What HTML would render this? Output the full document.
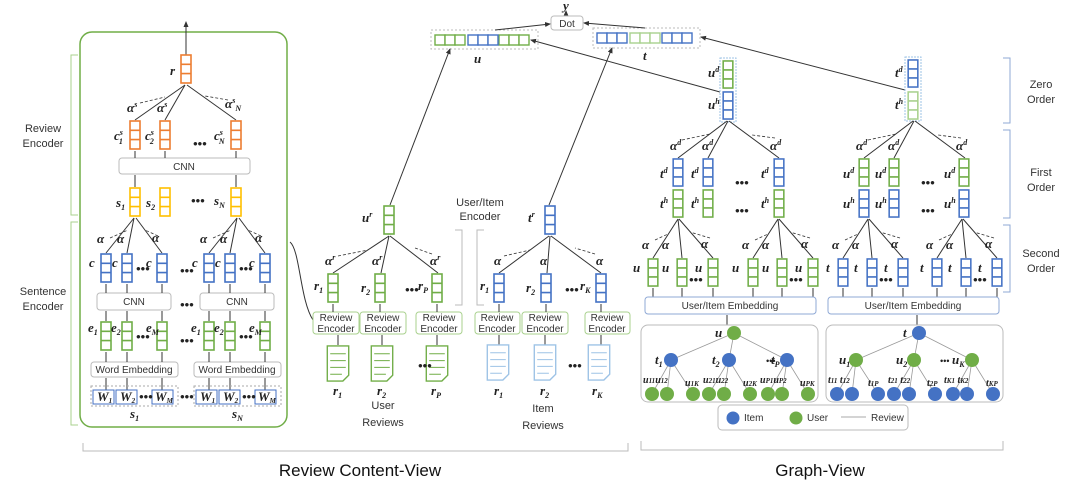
<!DOCTYPE html>
<html><head><meta charset="utf-8"><style>
html,body{margin:0;padding:0;background:#fff}
svg{display:block}
.m{font-family:"Liberation Serif",serif;font-style:italic;font-weight:bold;font-size:13px;fill:#222}
.s{font-family:"Liberation Sans",sans-serif;font-size:10px;fill:#333}
.l{font-family:"Liberation Sans",sans-serif;font-size:11px;fill:#333}
.big{font-family:"Liberation Sans",sans-serif;font-size:17px;fill:#111}
.ln{stroke:#333;stroke-width:1;fill:none}
.dl{stroke:#333;stroke-width:0.8;fill:none;stroke-dasharray:3 2}
</style></head><body>
<svg width="1080" height="491" viewBox="0 0 1080 491" xmlns="http://www.w3.org/2000/svg">
<defs>
<marker id="a" markerWidth="6" markerHeight="6" refX="5" refY="3" orient="auto"><path d="M0,0.5L6,3L0,5.5z" fill="#333"/></marker>
<symbol id="vg" viewBox="0 0 12 30"><rect x="1" y="1" width="10" height="28" fill="#fff" stroke="#70ad47" stroke-width="1.6"/><path d="M1 10.3H11M1 19.6H11" stroke="#70ad47" stroke-width="1.6"/></symbol>
<symbol id="vb" viewBox="0 0 12 30"><rect x="1" y="1" width="10" height="28" fill="#fff" stroke="#4472c4" stroke-width="1.6"/><path d="M1 10.3H11M1 19.6H11" stroke="#4472c4" stroke-width="1.6"/></symbol>
<symbol id="vo" viewBox="0 0 12 30"><rect x="1" y="1" width="10" height="28" fill="#fff" stroke="#ed7d31" stroke-width="1.6"/><path d="M1 10.3H11M1 19.6H11" stroke="#ed7d31" stroke-width="1.6"/></symbol>
<symbol id="vy" viewBox="0 0 12 30"><rect x="1" y="1" width="10" height="28" fill="#fff" stroke="#ffc000" stroke-width="1.6"/><path d="M1 10.3H11M1 19.6H11" stroke="#ffc000" stroke-width="1.6"/></symbol>
<symbol id="vl" viewBox="0 0 12 30"><rect x="1" y="1" width="10" height="28" fill="#fff" stroke="#a9d18e" stroke-width="1.6"/><path d="M1 10.3H11M1 19.6H11" stroke="#a9d18e" stroke-width="1.6"/></symbol>
<symbol id="dg" viewBox="0 0 24 38"><path d="M1 1H23V31L17 37H1Z" fill="#fff" stroke="#70ad47" stroke-width="1.4"/><path d="M4 9H20M4 16H20M4 23H20M4 30H16" stroke="#70ad47" stroke-width="1"/></symbol>
<symbol id="db" viewBox="0 0 24 38"><path d="M1 1H23V31L17 37H1Z" fill="#fff" stroke="#9dc3e6" stroke-width="1.4"/><path d="M4 9H20M4 16H20M4 23H20M4 30H16" stroke="#9dc3e6" stroke-width="1"/></symbol>
</defs>

<!-- Left panel -->
<rect x="80" y="32" width="207" height="395" rx="12" fill="none" stroke="#70ad47" stroke-width="1.5"/>
<path d="M78 55H71V215H78M78 222H71V425H78" fill="none" stroke="#a9d18e" stroke-width="1"/>
<text class="l" x="43" y="132" text-anchor="middle">Review</text><text class="l" x="43" y="147" text-anchor="middle">Encoder</text>
<text class="l" x="43" y="295" text-anchor="middle">Sentence</text><text class="l" x="43" y="310" text-anchor="middle">Encoder</text>

<line class="ln" x1="186" y1="55" x2="186" y2="22" marker-end="url(#a)"/>
<use href="#vo" x="180" y="54" width="12" height="30"/>
<text class="m" x="170" y="75">r</text>
<line class="ln" x1="135" y1="120" x2="185" y2="85"/><line class="ln" x1="165" y1="120" x2="185" y2="85"/><line class="ln" x1="236" y1="120" x2="187" y2="85"/>
<line class="dl" x1="140" y1="103" x2="165" y2="97"/><line class="dl" x1="228" y1="100" x2="205" y2="96"/>
<text class="m" x="127" y="112">α<tspan font-size="8" dy="-5">s</tspan></text><text class="m" x="157" y="112">α<tspan font-size="8" dy="-5">s</tspan></text><text class="m" x="225" y="108">α<tspan font-size="8" dy="-5">s</tspan><tspan font-size="8" dy="8">N</tspan></text>
<use href="#vo" x="129" y="120" width="12" height="30"/><use href="#vo" x="159" y="120" width="12" height="30"/><use href="#vo" x="230" y="120" width="12" height="30"/>
<text class="m" x="114" y="140">c<tspan font-size="8" dy="-5">s</tspan><tspan font-size="8" dx="-4" dy="9">1</tspan></text>
<text class="m" x="145" y="140">c<tspan font-size="8" dy="-5">s</tspan><tspan font-size="8" dx="-4" dy="9">2</tspan></text>
<text class="m" x="214" y="140">c<tspan font-size="8" dy="-5">s</tspan><tspan font-size="8" dx="-4" dy="9">N</tspan></text>
<text class="m" x="193" y="148">•••</text>
<rect x="119" y="158" width="131" height="16" rx="3" fill="#fff" stroke="#bbb"/><text class="s" x="184" y="170" text-anchor="middle">CNN</text>
<path class="ln" d="M135 158V151M165 158V151M236 158V151M135 187V175M236 187V175"/>
<use href="#vy" x="129" y="187" width="12" height="30"/><use href="#vy" x="159" y="187" width="12" height="30"/><use href="#vy" x="230" y="187" width="12" height="30"/>
<text class="m" x="116" y="207">s<tspan font-size="8" dy="3">1</tspan></text><text class="m" x="146" y="207">s<tspan font-size="8" dy="3">2</tspan></text><text class="m" x="214" y="205">s<tspan font-size="8" dy="3">N</tspan></text><text class="m" x="191" y="205">•••</text>

<!-- sentence encoders -->
<g id="se">
<line class="ln" x1="106" y1="253" x2="134" y2="218"/><line class="ln" x1="127" y1="253" x2="134" y2="218"/><line class="ln" x1="162" y1="253" x2="136" y2="218"/>
<line class="dl" x1="110" y1="238" x2="128" y2="230"/><line class="dl" x1="158" y1="236" x2="145" y2="230"/>
<text class="m" x="97" y="243">α</text><text class="m" x="117" y="243">α</text><text class="m" x="152" y="242">α</text>
<use href="#vb" x="100" y="253" width="12" height="30"/><use href="#vb" x="121" y="253" width="12" height="30"/><use href="#vb" x="156" y="253" width="12" height="30"/>
<text class="m" x="89" y="267">c</text><text class="m" x="112" y="267">c</text><text class="m" x="146" y="267">c</text><text class="m" x="136" y="273" font-size="9">•••</text>
<rect x="97" y="293" width="74" height="17" rx="3" fill="#fff" stroke="#bbb"/><text class="s" x="134" y="305" text-anchor="middle">CNN</text>
<path class="ln" d="M106 293V284M127 293V284M162 293V284M106 321V311M127 321V311M162 321V311"/>
<use href="#vg" x="100" y="321" width="12" height="30"/><use href="#vg" x="121" y="321" width="12" height="30"/><use href="#vg" x="156" y="321" width="12" height="30"/>
<text class="m" x="88" y="332">e<tspan font-size="8" dy="3">1</tspan></text><text class="m" x="111" y="332">e<tspan font-size="8" dy="3">2</tspan></text><text class="m" x="146" y="332">e<tspan font-size="8" dy="3">M</tspan></text><text class="m" x="136" y="341" font-size="9">•••</text>
<rect x="91" y="362" width="87" height="15" rx="3" fill="#fff" stroke="#bbb"/><text class="s" x="134" y="373" text-anchor="middle">Word Embedding</text>
<path class="ln" d="M106 362V352M127 362V352M162 362V352M106 390V378M127 390V378M162 390V378"/>
<rect x="91" y="386" width="87" height="20" fill="none" stroke="#aaa" stroke-dasharray="2 2"/>
<rect x="93" y="390" width="21" height="14" fill="#fff" stroke="#4472c4"/><rect x="116" y="390" width="21" height="14" fill="#fff" stroke="#4472c4"/><rect x="152" y="390" width="21" height="14" fill="#fff" stroke="#4472c4"/>
<text class="m" x="97" y="401" font-size="11" font-weight="normal">W<tspan font-size="7" dy="2">1</tspan></text><text class="m" x="120" y="401" font-size="11" font-weight="normal">W<tspan font-size="7" dy="2">2</tspan></text><text class="m" x="155" y="401" font-size="11" font-weight="normal">W<tspan font-size="7" dy="2">M</tspan></text><text class="m" x="139" y="401" font-size="8">•••</text>
</g>
<use href="#se" x="103" y="0"/>
<text class="m" x="180" y="309" font-size="8">•••</text><text class="m" x="180" y="345" font-size="8">•••</text><text class="m" x="180" y="401" font-size="8">•••</text><text class="m" x="180" y="275" font-size="8">•••</text>
<text class="m" x="130" y="418" font-weight="normal">s<tspan font-size="8" dy="3">1</tspan></text><text class="m" x="232" y="418" font-weight="normal">s<tspan font-size="8" dy="3">N</tspan></text>

<!-- connector to left panel -->
<path class="ln" d="M313 320C300 300 300 250 290 242" stroke="#70ad47"/>

<!-- Middle user -->
<use href="#vg" x="383" y="205" width="12" height="30"/><text class="m" x="362" y="222">u<tspan font-size="8" dy="-5">r</tspan></text>
<path class="ln" d="M333 273L389 236M381 273L389 236M438 273L390 236"/>
<line class="dl" x1="338" y1="256" x2="368" y2="250"/><line class="dl" x1="432" y1="254" x2="415" y2="248"/>
<text class="m" x="325" y="265">α<tspan font-size="8" dy="-5">r</tspan></text><text class="m" x="372" y="265">α<tspan font-size="8" dy="-5">r</tspan></text><text class="m" x="430" y="265">α<tspan font-size="8" dy="-5">r</tspan></text>
<use href="#vg" x="327" y="273" width="12" height="30"/><use href="#vg" x="374" y="273" width="12" height="30"/><use href="#vg" x="431" y="273" width="12" height="30"/>
<text class="m" x="314" y="290">r<tspan font-size="8" dy="3">1</tspan></text><text class="m" x="361" y="292">r<tspan font-size="8" dy="3">2</tspan></text><text class="m" x="418" y="290">r<tspan font-size="8" dy="3">P</tspan></text><text class="m" x="405" y="294" font-size="9">•••</text>
<g fill="#fff" stroke="#a9d18e"><rect x="313" y="312" width="46" height="22" rx="3"/><rect x="360" y="312" width="46" height="22" rx="3"/><rect x="416" y="312" width="46" height="22" rx="3"/></g>
<text class="s" font-size="9"><tspan x="336" y="321" text-anchor="middle">Review</tspan><tspan x="336" y="332" text-anchor="middle">Encoder</tspan><tspan x="383" y="321" text-anchor="middle">Review</tspan><tspan x="383" y="332" text-anchor="middle">Encoder</tspan><tspan x="439" y="321" text-anchor="middle">Review</tspan><tspan x="439" y="332" text-anchor="middle">Encoder</tspan></text>
<path class="ln" d="M333 312V304M380 312V304M437 312V304M338 345V335M382 345V335M437 345V335"/>
<use href="#dg" x="326" y="345" width="24" height="37"/><use href="#dg" x="370" y="345" width="24" height="37"/><use href="#dg" x="425" y="345" width="24" height="37"/>
<text class="m" x="418" y="370" font-size="9">•••</text>
<text class="m" font-weight="normal" x="333" y="395">r<tspan font-size="8" dy="3">1</tspan></text><text class="m" x="377" y="395">r<tspan font-size="8" dy="3">2</tspan></text><text class="m" x="431" y="395">r<tspan font-size="8" dy="3">P</tspan></text>
<text class="l" x="383" y="409" text-anchor="middle" font-size="12">User</text><text class="l" x="383" y="426" text-anchor="middle" font-size="12">Reviews</text>
<path d="M455 230H462V305H455M484 230H477V305H484" fill="none" stroke="#bbb"/>
<text class="l" x="480" y="206" text-anchor="middle">User/Item</text><text class="l" x="480" y="220" text-anchor="middle">Encoder</text>

<!-- Middle item -->
<use href="#vb" x="544" y="205" width="12" height="30"/><text class="m" x="528" y="222">t<tspan font-size="8" dy="-5">r</tspan></text>
<path class="ln" d="M499 273L549 236M547 273L550 236M601 273L551 236"/>
<line class="dl" x1="504" y1="256" x2="530" y2="250"/><line class="dl" x1="595" y1="254" x2="575" y2="248"/>
<text class="m" x="494" y="265">α</text><text class="m" x="540" y="265">α</text><text class="m" x="596" y="265">α</text>
<use href="#vb" x="493" y="273" width="12" height="30"/><use href="#vb" x="540" y="273" width="12" height="30"/><use href="#vb" x="595" y="273" width="12" height="30"/>
<text class="m" x="480" y="290">r<tspan font-size="8" dy="3">1</tspan></text><text class="m" x="526" y="292">r<tspan font-size="8" dy="3">2</tspan></text><text class="m" x="580" y="290">r<tspan font-size="8" dy="3">K</tspan></text><text class="m" x="565" y="294" font-size="9">•••</text>
<g fill="#fff" stroke="#a9d18e"><rect x="475" y="312" width="45" height="22" rx="3"/><rect x="522" y="312" width="46" height="22" rx="3"/><rect x="585" y="312" width="45" height="22" rx="3"/></g>
<text class="s" font-size="9"><tspan x="497" y="321" text-anchor="middle">Review</tspan><tspan x="497" y="332" text-anchor="middle">Encoder</tspan><tspan x="545" y="321" text-anchor="middle">Review</tspan><tspan x="545" y="332" text-anchor="middle">Encoder</tspan><tspan x="607" y="321" text-anchor="middle">Review</tspan><tspan x="607" y="332" text-anchor="middle">Encoder</tspan></text>
<path class="ln" d="M499 312V304M546 312V304M601 312V304M499 345V335M545 345V335M601 345V335"/>
<use href="#db" x="486" y="344" width="24" height="37"/><use href="#db" x="533" y="344" width="24" height="37"/><use href="#db" x="587" y="344" width="24" height="37"/>
<text class="m" x="568" y="370" font-size="9">•••</text>
<text class="m" font-weight="normal" x="494" y="395">r<tspan font-size="8" dy="3">1</tspan></text><text class="m" x="540" y="395">r<tspan font-size="8" dy="3">2</tspan></text><text class="m" x="592" y="395">r<tspan font-size="8" dy="3">K</tspan></text>
<text class="l" x="543" y="412" text-anchor="middle" font-size="12">Item</text><text class="l" x="543" y="429" text-anchor="middle" font-size="12">Reviews</text>

<!-- Top -->
<text class="m" x="563" y="10">y</text><line class="ln" x1="566" y1="16" x2="566" y2="11" marker-end="url(#a)"/>
<rect x="551" y="16" width="32" height="14" rx="3" fill="#fff" stroke="#bbb"/><text class="s" x="567" y="27" text-anchor="middle">Dot</text>
<rect x="431" y="30" width="107" height="19" fill="none" stroke="#bbb" stroke-dasharray="2 2"/>
<g fill="#fff" stroke-width="1.4"><g stroke="#70ad47"><rect x="435" y="35" width="10" height="10"/><rect x="445" y="35" width="10" height="10"/><rect x="455" y="35" width="10" height="10"/><rect x="499" y="35" width="10" height="10"/><rect x="509" y="35" width="10" height="10"/><rect x="519" y="35" width="10" height="10"/></g>
<g stroke="#4472c4"><rect x="468" y="35" width="10" height="10"/><rect x="478" y="35" width="10" height="10"/><rect x="488" y="35" width="10" height="10"/><rect x="597" y="33" width="10" height="10"/><rect x="607" y="33" width="10" height="10"/><rect x="617" y="33" width="10" height="10"/><rect x="662" y="33" width="10" height="10"/><rect x="672" y="33" width="10" height="10"/><rect x="682" y="33" width="10" height="10"/></g>
<g stroke="#a9d18e"><rect x="630" y="33" width="10" height="10"/><rect x="640" y="33" width="10" height="10"/><rect x="650" y="33" width="10" height="10"/></g></g>
<rect x="593" y="28" width="107" height="20" fill="none" stroke="#bbb" stroke-dasharray="2 2"/>
<text class="m" x="474" y="63">u</text><text class="m" x="643" y="60">t</text>
<line class="ln" x1="495" y1="30" x2="550" y2="24" marker-end="url(#a)"/><line class="ln" x1="645" y1="28" x2="584" y2="23" marker-end="url(#a)"/>
<line class="ln" x1="390" y1="205" x2="450" y2="49" marker-end="url(#a)"/><line class="ln" x1="549" y1="205" x2="612" y2="48" marker-end="url(#a)"/>
<line class="ln" x1="720" y1="92" x2="531" y2="40" marker-end="url(#a)"/><line class="ln" x1="905" y1="90" x2="701" y2="37" marker-end="url(#a)"/>

<!-- Right: zero order -->
<rect x="720" y="58" width="16" height="64" fill="none" stroke="#9dc3e6" stroke-dasharray="2 1"/>
<use href="#vg" x="722" y="60" width="12" height="29"/><use href="#vb" x="722" y="91" width="12" height="29"/>
<text class="m" x="708" y="77">u<tspan font-size="8" dy="-5">d</tspan></text><text class="m" x="708" y="109">u<tspan font-size="8" dy="-5">h</tspan></text>
<rect x="905" y="57" width="16" height="64" fill="none" stroke="#9dc3e6" stroke-dasharray="2 1"/>
<use href="#vb" x="907" y="59" width="12" height="29"/><use href="#vl" x="907" y="91" width="12" height="29"/>
<text class="m" x="895" y="77">t<tspan font-size="8" dy="-5">d</tspan></text><text class="m" x="895" y="109">t<tspan font-size="8" dy="-5">h</tspan></text>

<!-- first order -->
<g id="fo">
<path class="ln" d="M678 158L727 121M708 158L728 121M779 158L729 121"/>
<line class="dl" x1="682" y1="140" x2="710" y2="134"/><line class="dl" x1="775" y1="138" x2="752" y2="135"/>
<text class="m" x="670" y="150">α<tspan font-size="8" dy="-5">d</tspan></text><text class="m" x="702" y="150">α<tspan font-size="8" dy="-5">d</tspan></text><text class="m" x="770" y="150">α<tspan font-size="8" dy="-5">d</tspan></text>
<text class="m" x="735" y="187" font-size="9">•••</text><text class="m" x="735" y="215" font-size="9">•••</text>
</g>
<use href="#fo" x="186" y="0"/>
<use href="#vb" x="672" y="158" width="12" height="29"/><use href="#vg" x="672" y="189" width="12" height="29"/>
<use href="#vb" x="702" y="158" width="12" height="29"/><use href="#vg" x="702" y="189" width="12" height="29"/>
<use href="#vb" x="773" y="158" width="12" height="29"/><use href="#vg" x="773" y="189" width="12" height="29"/>
<use href="#vg" x="858" y="158" width="12" height="29"/><use href="#vb" x="858" y="189" width="12" height="29"/>
<use href="#vg" x="888" y="158" width="12" height="29"/><use href="#vb" x="888" y="189" width="12" height="29"/>
<use href="#vg" x="958" y="158" width="12" height="29"/><use href="#vb" x="958" y="189" width="12" height="29"/>
<text class="m" x="660" y="178">t<tspan font-size="8" dy="-5">d</tspan></text><text class="m" x="660" y="208">t<tspan font-size="8" dy="-5">h</tspan></text>
<text class="m" x="691" y="178">t<tspan font-size="8" dy="-5">d</tspan></text><text class="m" x="691" y="208">t<tspan font-size="8" dy="-5">h</tspan></text>
<text class="m" x="761" y="178">t<tspan font-size="8" dy="-5">d</tspan></text><text class="m" x="761" y="208">t<tspan font-size="8" dy="-5">h</tspan></text>
<text class="m" x="843" y="178">u<tspan font-size="8" dy="-5">d</tspan></text><text class="m" x="843" y="208">u<tspan font-size="8" dy="-5">h</tspan></text>
<text class="m" x="875" y="178">u<tspan font-size="8" dy="-5">d</tspan></text><text class="m" x="875" y="208">u<tspan font-size="8" dy="-5">h</tspan></text>
<text class="m" x="944" y="178">u<tspan font-size="8" dy="-5">d</tspan></text><text class="m" x="944" y="208">u<tspan font-size="8" dy="-5">h</tspan></text>

<!-- second order -->
<g id="so">
<path class="ln" d="M653 258L678 219M682 258L678 219M713 258L679 219"/>
<line class="dl" x1="655" y1="240" x2="668" y2="234"/><line class="dl" x1="710" y1="238" x2="690" y2="232"/>
<text class="m" x="642" y="249">α</text><text class="m" x="662" y="249">α</text><text class="m" x="701" y="248">α</text>
<text class="m" x="689" y="284" font-size="8">•••</text>
</g>
<use href="#so" x="100" y="0"/><use href="#so" x="190" y="0"/><use href="#so" x="284" y="0"/>
<use href="#vg" x="647" y="258" width="12" height="29"/><use href="#vg" x="676" y="258" width="12" height="29"/><use href="#vg" x="707" y="258" width="12" height="29"/>
<use href="#vg" x="747" y="258" width="12" height="29"/><use href="#vg" x="776" y="258" width="12" height="29"/><use href="#vg" x="807" y="258" width="12" height="29"/>
<use href="#vb" x="837" y="258" width="12" height="29"/><use href="#vb" x="866" y="258" width="12" height="29"/><use href="#vb" x="897" y="258" width="12" height="29"/>
<use href="#vb" x="931" y="258" width="12" height="29"/><use href="#vb" x="960" y="258" width="12" height="29"/><use href="#vb" x="991" y="258" width="12" height="29"/>
<text class="m" x="633" y="272" font-size="12">u</text><text class="m" x="662" y="272" font-size="12">u</text><text class="m" x="695" y="272" font-size="12">u</text>
<text class="m" x="732" y="272" font-size="12">u</text><text class="m" x="762" y="272" font-size="12">u</text><text class="m" x="795" y="272" font-size="12">u</text>
<text class="m" x="826" y="272" font-size="12">t</text><text class="m" x="854" y="272" font-size="12">t</text><text class="m" x="884" y="272" font-size="12">t</text>
<text class="m" x="920" y="272" font-size="12">t</text><text class="m" x="948" y="272" font-size="12">t</text><text class="m" x="978" y="272" font-size="12">t</text>
<path class="ln" d="M653 297V288M682 297V288M713 297V288M753 297V288M782 297V288M813 297V288M843 297V288M872 297V288M903 297V288M937 297V288M966 297V288M997 297V288"/>

<!-- embeddings & graphs -->
<rect x="645" y="297" width="171" height="17" rx="3" fill="#fff" stroke="#8fa9d6"/><text class="s" x="730" y="309" text-anchor="middle">User/Item Embedding</text>
<rect x="828" y="297" width="171" height="17" rx="3" fill="#fff" stroke="#8fa9d6"/><text class="s" x="913" y="309" text-anchor="middle">User/Item Embedding</text>
<path class="ln" d="M727 325V315M917 325V315"/>
<rect x="641" y="325" width="177" height="77" rx="7" fill="#fff" stroke="#bbb"/>
<rect x="826" y="325" width="177" height="77" rx="7" fill="#fff" stroke="#bbb"/>
<g stroke="#999" stroke-width="0.8">
<path d="M734 333L671 360M734 333L729 360M734 333L787 360M671 360L652 394M671 360L667 394M671 360L693 394M729 360L709 394M729 360L724 394M729 360L750 394M787 360L768 394M787 360L782 394M787 360L808 394"/>
<path d="M919 333L856 360M919 333L914 360M919 333L972 360M856 360L837 394M856 360L852 394M856 360L878 394M914 360L894 394M914 360L909 394M914 360L935 394M972 360L953 394M972 360L967 394M972 360L993 394"/>
</g>
<g fill="#70ad47"><circle cx="734" cy="333" r="7"/><circle cx="652" cy="394" r="7"/><circle cx="667" cy="394" r="7"/><circle cx="693" cy="394" r="7"/><circle cx="709" cy="394" r="7"/><circle cx="724" cy="394" r="7"/><circle cx="750" cy="394" r="7"/><circle cx="768" cy="394" r="7"/><circle cx="782" cy="394" r="7"/><circle cx="808" cy="394" r="7"/><circle cx="856" cy="360" r="7"/><circle cx="914" cy="360" r="7"/><circle cx="972" cy="360" r="7"/></g>
<g fill="#4472c4"><circle cx="919" cy="333" r="7"/><circle cx="671" cy="360" r="7"/><circle cx="729" cy="360" r="7"/><circle cx="787" cy="360" r="7"/><circle cx="837" cy="394" r="7"/><circle cx="852" cy="394" r="7"/><circle cx="878" cy="394" r="7"/><circle cx="894" cy="394" r="7"/><circle cx="909" cy="394" r="7"/><circle cx="935" cy="394" r="7"/><circle cx="953" cy="394" r="7"/><circle cx="967" cy="394" r="7"/><circle cx="993" cy="394" r="7"/></g>
<g class="m" font-weight="normal" font-size="12"><text x="715" y="337">u</text><text x="903" y="337">t</text>
<text x="655" y="364">t<tspan font-size="8" dy="3">1</tspan></text><text x="712" y="364">t<tspan font-size="8" dy="3">2</tspan></text><text x="766" y="364" font-size="9">•••</text><text x="771" y="364">t<tspan font-size="8" dy="3">P</tspan></text>
<text x="839" y="364">u<tspan font-size="8" dy="3">1</tspan></text><text x="896" y="364">u<tspan font-size="8" dy="3">2</tspan></text><text x="940" y="364" font-size="9">•••</text><text x="952" y="364">u<tspan font-size="8" dy="3">K</tspan></text>
<text x="643" y="383" font-size="10">u<tspan font-size="7">11</tspan>u<tspan font-size="7">12</tspan></text><text x="685" y="386" font-size="10">u<tspan font-size="7">1K</tspan></text><text x="703" y="383" font-size="10">u<tspan font-size="7">21</tspan>u<tspan font-size="7">22</tspan></text><text x="743" y="386" font-size="10">u<tspan font-size="7">2K</tspan></text><text x="760" y="383" font-size="10">u<tspan font-size="7">P1</tspan>u<tspan font-size="7">P2</tspan></text><text x="800" y="386" font-size="10">u<tspan font-size="7">PK</tspan></text>
<text x="828" y="383" font-size="10">t<tspan font-size="7">11</tspan> t<tspan font-size="7">12</tspan></text><text x="868" y="386" font-size="10">t<tspan font-size="7">1P</tspan></text><text x="888" y="383" font-size="10">t<tspan font-size="7">21</tspan> t<tspan font-size="7">22</tspan></text><text x="927" y="386" font-size="10">t<tspan font-size="7">2P</tspan></text><text x="944" y="383" font-size="10">t<tspan font-size="7">K1</tspan> t<tspan font-size="7">K2</tspan></text><text x="986" y="386" font-size="10">t<tspan font-size="7">KP</tspan></text>
</g>
<rect x="718" y="405" width="190" height="25" rx="4" fill="#fff" stroke="#bbb"/>
<circle cx="733" cy="418" r="6.5" fill="#4472c4"/><text class="s" x="744" y="421">Item</text>
<circle cx="796" cy="418" r="6.5" fill="#70ad47"/><text class="s" x="807" y="421">User</text>
<line x1="841" y1="417" x2="866" y2="417" stroke="#aaa"/><text class="s" x="871" y="421">Review</text>

<!-- right brackets -->
<path d="M1003 58H1010V123H1003M1003 130H1010V218H1003M1003 225H1010V292H1003" fill="none" stroke="#8fa9d6"/>
<text class="l" x="1041" y="88" text-anchor="middle">Zero</text><text class="l" x="1041" y="103" text-anchor="middle">Order</text>
<text class="l" x="1041" y="176" text-anchor="middle">First</text><text class="l" x="1041" y="191" text-anchor="middle">Order</text>
<text class="l" x="1041" y="257" text-anchor="middle">Second</text><text class="l" x="1041" y="272" text-anchor="middle">Order</text>

<!-- bottom brackets -->
<path d="M83 443V451H628V443" fill="none" stroke="#bbb"/>
<path d="M641 441V450H1003V441" fill="none" stroke="#bbb"/>
<text class="big" x="360" y="476" text-anchor="middle">Review Content-View</text>
<text class="big" x="820" y="476" text-anchor="middle">Graph-View</text>
</svg>
</body></html>
